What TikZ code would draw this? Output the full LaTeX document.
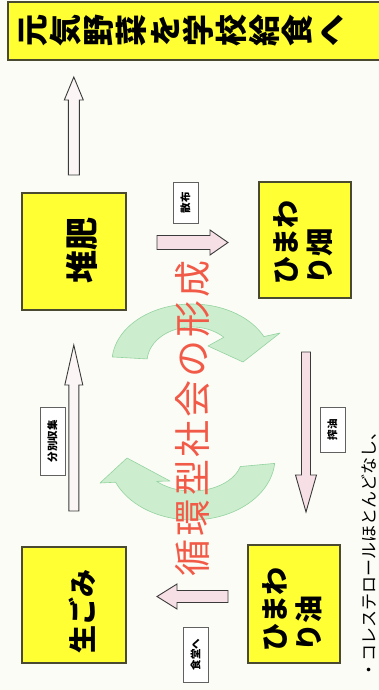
\documentclass[tikz,border=0pt]{standalone}
\usepackage{fontspec}
\newfontfamily\jp{Noto Sans CJK JP}
\usetikzlibrary{calc}
\definecolor{bg}{HTML}{FCFCF7}
\definecolor{boxyellow}{HTML}{FFFF33}
\definecolor{boxline}{HTML}{4A4A30}
\definecolor{redtxt}{HTML}{F25A48}
\definecolor{greenfill}{HTML}{C4ECC8}
\definecolor{greenline}{HTML}{93D39E}
\definecolor{pinkfill}{HTML}{F6E0E6}
\definecolor{palefill}{HTML}{FBF5F5}
\definecolor{arrline}{HTML}{3A3A3A}
\tikzset{
  ybox/.style={draw=boxline, line width=1.1pt, fill=boxyellow, inner sep=0pt},
  boxtext/.style={font=\jp\bfseries\fontsize{28}{34}\selectfont, rotate=90, align=left, inner sep=0pt},
  tatetext/.style={font=\jp\bfseries\fontsize{32}{33.2}\selectfont, rotate=90, align=center, inner sep=0pt},
  lbl/.style={draw=arrline!80, fill=white, line width=0.8pt, rotate=90, inner sep=0pt,
    font=\jp\bfseries\fontsize{10.5}{12}\selectfont},
  barr/.style={draw=arrline, line width=0.9pt, fill=pinkfill, line join=miter},
  greenarr/.style={fill=greenfill, fill opacity=0.85, draw=greenline, line width=0.6pt, line join=round},
  redtext/.style={font=\jp\fontsize{37}{40}\selectfont\addfontfeature{LetterSpace=8}, text=redtxt, rotate=90, inner sep=0pt},
  notetext/.style={font=\jp\fontsize{17}{20}\selectfont, rotate=90, inner sep=0pt}
}
\newcommand\blkarrow[6][]{%
  \coordinate (hb) at ($(#3)!#6!(#2)$);
  \draw[barr,#1] ($(#2)!#4!90:(#3)$) -- ($(hb)!#4!-90:(#2)$) -- ($(hb)!#5!-90:(#2)$) -- (#3)
    -- ($(hb)!#5!90:(#2)$) -- ($(hb)!#4!90:(#2)$) -- ($(#2)!#4!-90:(#3)$) -- cycle;}
\begin{document}
\begin{tikzpicture}[x=1pt, y=-1pt]
\fill[bg] (0,0) rectangle (379,690);
\useasboundingbox (0,0) rectangle (379,690);

% boxes
\node[ybox, minimum width=374pt, minimum height=58pt] (genki) at (195,31) {};
\node[tatetext] (genkit) at (181,31) {元\\気\\野\\菜\\を\\学\\校\\給\\食\\へ};

\node[ybox, minimum width=104pt, minimum height=117pt] (taihi) at (74,251.5) {};
\node[boxtext, font=\jp\bfseries\fontsize{33}{36}\selectfont] (taihit) at (82,250) {堆肥};

\node[ybox, minimum width=92pt, minimum height=116pt] (hatake) at (305,240) {};
\node[boxtext] (hataket) at (303.5,242.5) {ひまわ\\り畑};

\node[ybox, minimum width=104pt, minimum height=116pt] (gomi) at (74,605) {};
\node[boxtext] (gomit) at (82,611) {生ごみ};

\node[ybox, minimum width=92pt, minimum height=118pt] (abura) at (294,604) {};
\node[boxtext] (aburat) at (292.5,609.5) {ひまわ\\り油};

% arrow end points
\coordinate (a1s) at (73.8,175);
\coordinate (a1e) at (73.8,77);
\coordinate (a2s) at (73.8,511);
\coordinate (a2e) at (73.8,345);
\coordinate (a3s) at (157,242.5);
\coordinate (a3e) at (228,242.5);
\coordinate (a4s) at (306,352);
\coordinate (a4e) at (306,512);
\coordinate (a5s) at (228,596.5);
\coordinate (a5e) at (157,596.5);

\blkarrow[fill=palefill]{a1s}{a1e}{5.5pt}{9.5pt}{23pt}
\blkarrow[fill=palefill]{a2s}{a2e}{5pt}{9pt}{40pt}
\blkarrow{a3s}{a3e}{7pt}{12.5pt}{18pt}
\blkarrow{a4s}{a4e}{4.5pt}{10.5pt}{37pt}
\blkarrow{a5s}{a5e}{6pt}{12.5pt}{20pt}

% labels
\node[lbl, minimum width=68pt, minimum height=25pt] (l1) at (52.5,441) {分別収集};
\node[lbl, minimum width=41pt, minimum height=25pt] (l2) at (185.5,202.5) {散布};
\node[lbl, minimum width=45pt, minimum height=25pt] (l3) at (332.5,429.5) {搾油};
\node[lbl, minimum width=55pt, minimum height=25pt] (l4) at (195.5,654.5) {食堂へ};

% green circular arrows
\draw[greenarr]
  plot[domain=175:26, samples=40] ({192+80*cos(\x)}, {362-58*sin(\x)})
  -- (280,333) -- (243,362) -- (208,346) -- (223.8,337.3)
  -- plot[domain=45:175, samples=30] ({192+45*cos(\x)}, {362-35*sin(\x)}) -- cycle;
\draw[greenarr]
  plot[domain=-5:-157, samples=40] ({192+83*cos(\x)}, {458-62*sin(\x)})
  -- (100,483) -- (127,458) -- (170,481)
  -- plot[domain=-135:-15, samples=30] ({192+50*cos(\x)}, {458-33*sin(\x)}) -- cycle;

% title and note
\node[redtext] (title) at (192.5,418.5) {循環型社会の形成};
\node[notetext] (note) at (369,551) {・コレステロールほとんどなし、};
\end{tikzpicture}
\end{document}
